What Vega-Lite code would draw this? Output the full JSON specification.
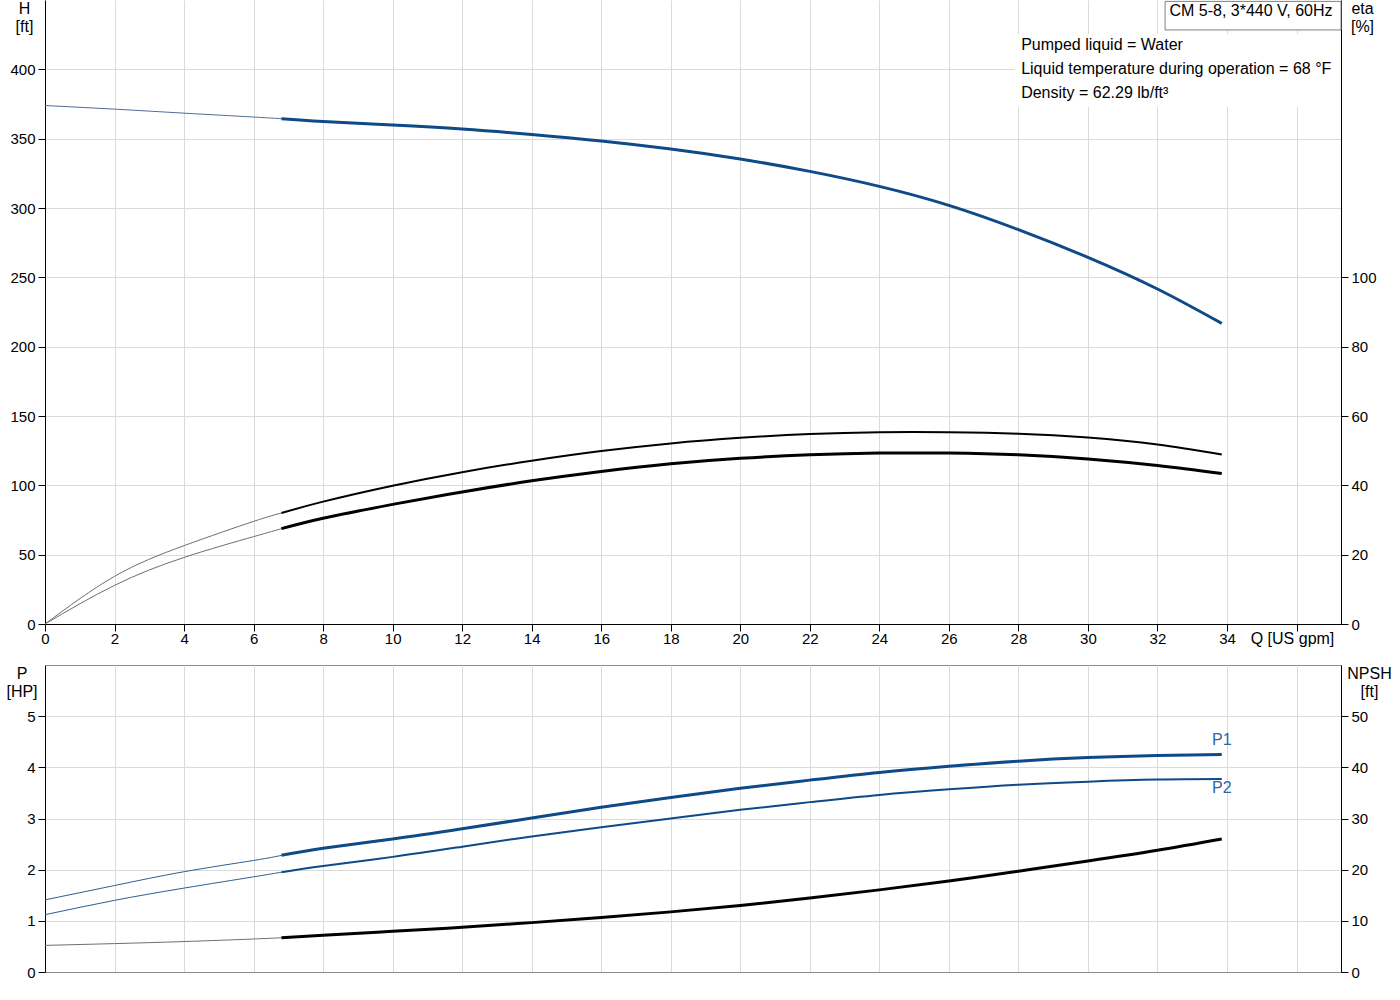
{
  "$schema": "https://vega.github.io/schema/vega-lite/v6.json",
  "padding": {"left": 5, "top": 0, "right": 5, "bottom": 5},
  "config": {
    "font": "Liberation Sans",
    "axis": {
      "labelFont": "Liberation Sans", "labelFontSize": 15, "labelColor": "#000000",
      "titleFont": "Liberation Sans", "titleFontSize": 16, "titleFontWeight": "normal", "titleColor": "#000000",
      "domainColor": "#000000", "tickColor": "#000000", "gridColor": "#dadada",
      "tickSize": 7, "labelPadding": 3, "labelFlush": false
    },
    "view": {"stroke": "#8c8c8c"},
    "concat": {"spacing": 18}
  },
  "datasets": {
    "top": [
      {"curve": "H", "range": "extended", "q": 0, "value": 373.9},
      {"curve": "H", "range": "extended", "q": 2, "value": 371.3},
      {"curve": "H", "range": "extended", "q": 4, "value": 368.4},
      {"curve": "H", "range": "extended", "q": 6, "value": 365.6},
      {"curve": "H", "range": "extended", "q": 6.8, "value": 364.4},
      {"curve": "H", "range": "duty", "q": 6.8, "value": 364.4},
      {"curve": "H", "range": "duty", "q": 8, "value": 362.4},
      {"curve": "H", "range": "duty", "q": 10, "value": 359.8},
      {"curve": "H", "range": "duty", "q": 12, "value": 356.9},
      {"curve": "H", "range": "duty", "q": 14, "value": 353.0},
      {"curve": "H", "range": "duty", "q": 16, "value": 348.3},
      {"curve": "H", "range": "duty", "q": 18, "value": 342.5},
      {"curve": "H", "range": "duty", "q": 20, "value": 335.3},
      {"curve": "H", "range": "duty", "q": 22, "value": 326.4},
      {"curve": "H", "range": "duty", "q": 24, "value": 315.6},
      {"curve": "H", "range": "duty", "q": 26, "value": 301.9},
      {"curve": "H", "range": "duty", "q": 28, "value": 284.4},
      {"curve": "H", "range": "duty", "q": 30, "value": 264.4},
      {"curve": "H", "range": "duty", "q": 32, "value": 241.6},
      {"curve": "H", "range": "duty", "q": 33.85, "value": 216.8},
      {"curve": "eta pump", "range": "extended", "q": 0, "value": 0},
      {"curve": "eta pump", "range": "extended", "q": 2, "value": 13.75},
      {"curve": "eta pump", "range": "extended", "q": 4, "value": 22.6},
      {"curve": "eta pump", "range": "extended", "q": 6, "value": 29.6},
      {"curve": "eta pump", "range": "extended", "q": 6.8, "value": 32.0},
      {"curve": "eta pump", "range": "duty", "q": 6.8, "value": 32.0},
      {"curve": "eta pump", "range": "duty", "q": 8, "value": 35.3},
      {"curve": "eta pump", "range": "duty", "q": 10, "value": 39.9},
      {"curve": "eta pump", "range": "duty", "q": 12, "value": 43.8},
      {"curve": "eta pump", "range": "duty", "q": 14, "value": 47.1},
      {"curve": "eta pump", "range": "duty", "q": 16, "value": 49.9},
      {"curve": "eta pump", "range": "duty", "q": 18, "value": 52.1},
      {"curve": "eta pump", "range": "duty", "q": 20, "value": 53.7},
      {"curve": "eta pump", "range": "duty", "q": 22, "value": 54.8},
      {"curve": "eta pump", "range": "duty", "q": 24, "value": 55.3},
      {"curve": "eta pump", "range": "duty", "q": 26, "value": 55.3},
      {"curve": "eta pump", "range": "duty", "q": 28, "value": 54.9},
      {"curve": "eta pump", "range": "duty", "q": 30, "value": 53.8},
      {"curve": "eta pump", "range": "duty", "q": 32, "value": 51.8},
      {"curve": "eta pump", "range": "duty", "q": 33.85, "value": 48.9},
      {"curve": "eta total", "range": "extended", "q": 0, "value": 0},
      {"curve": "eta total", "range": "extended", "q": 2, "value": 11.15},
      {"curve": "eta total", "range": "extended", "q": 4, "value": 19.2},
      {"curve": "eta total", "range": "extended", "q": 6, "value": 25.2},
      {"curve": "eta total", "range": "extended", "q": 6.8, "value": 27.5},
      {"curve": "eta total", "range": "duty", "q": 6.8, "value": 27.5},
      {"curve": "eta total", "range": "duty", "q": 8, "value": 30.5},
      {"curve": "eta total", "range": "duty", "q": 10, "value": 34.5},
      {"curve": "eta total", "range": "duty", "q": 12, "value": 38.1},
      {"curve": "eta total", "range": "duty", "q": 14, "value": 41.3},
      {"curve": "eta total", "range": "duty", "q": 16, "value": 44.0},
      {"curve": "eta total", "range": "duty", "q": 18, "value": 46.2},
      {"curve": "eta total", "range": "duty", "q": 20, "value": 47.8},
      {"curve": "eta total", "range": "duty", "q": 22, "value": 48.8},
      {"curve": "eta total", "range": "duty", "q": 24, "value": 49.3},
      {"curve": "eta total", "range": "duty", "q": 26, "value": 49.3},
      {"curve": "eta total", "range": "duty", "q": 28, "value": 48.8},
      {"curve": "eta total", "range": "duty", "q": 30, "value": 47.6},
      {"curve": "eta total", "range": "duty", "q": 32, "value": 45.7},
      {"curve": "eta total", "range": "duty", "q": 33.85, "value": 43.4}
    ],
    "bottom": [
      {"curve": "P1", "range": "extended", "q": 0, "value": 1.41},
      {"curve": "P1", "range": "extended", "q": 2, "value": 1.69},
      {"curve": "P1", "range": "extended", "q": 4, "value": 1.96},
      {"curve": "P1", "range": "extended", "q": 6, "value": 2.18},
      {"curve": "P1", "range": "extended", "q": 6.8, "value": 2.28},
      {"curve": "P1", "range": "duty", "q": 6.8, "value": 2.28},
      {"curve": "P1", "range": "duty", "q": 8, "value": 2.42},
      {"curve": "P1", "range": "duty", "q": 10, "value": 2.6},
      {"curve": "P1", "range": "duty", "q": 12, "value": 2.8},
      {"curve": "P1", "range": "duty", "q": 14, "value": 3.01},
      {"curve": "P1", "range": "duty", "q": 16, "value": 3.22},
      {"curve": "P1", "range": "duty", "q": 18, "value": 3.41},
      {"curve": "P1", "range": "duty", "q": 20, "value": 3.59},
      {"curve": "P1", "range": "duty", "q": 22, "value": 3.75},
      {"curve": "P1", "range": "duty", "q": 24, "value": 3.9},
      {"curve": "P1", "range": "duty", "q": 26, "value": 4.02},
      {"curve": "P1", "range": "duty", "q": 28, "value": 4.12},
      {"curve": "P1", "range": "duty", "q": 30, "value": 4.19},
      {"curve": "P1", "range": "duty", "q": 32, "value": 4.23},
      {"curve": "P1", "range": "duty", "q": 33.85, "value": 4.25},
      {"curve": "P2", "range": "extended", "q": 0, "value": 1.12},
      {"curve": "P2", "range": "extended", "q": 2, "value": 1.4},
      {"curve": "P2", "range": "extended", "q": 4, "value": 1.64},
      {"curve": "P2", "range": "extended", "q": 6, "value": 1.86},
      {"curve": "P2", "range": "extended", "q": 6.8, "value": 1.95},
      {"curve": "P2", "range": "duty", "q": 6.8, "value": 1.95},
      {"curve": "P2", "range": "duty", "q": 8, "value": 2.07},
      {"curve": "P2", "range": "duty", "q": 10, "value": 2.25},
      {"curve": "P2", "range": "duty", "q": 12, "value": 2.45},
      {"curve": "P2", "range": "duty", "q": 14, "value": 2.65},
      {"curve": "P2", "range": "duty", "q": 16, "value": 2.83},
      {"curve": "P2", "range": "duty", "q": 18, "value": 3.0},
      {"curve": "P2", "range": "duty", "q": 20, "value": 3.17},
      {"curve": "P2", "range": "duty", "q": 22, "value": 3.32},
      {"curve": "P2", "range": "duty", "q": 24, "value": 3.46},
      {"curve": "P2", "range": "duty", "q": 26, "value": 3.57},
      {"curve": "P2", "range": "duty", "q": 28, "value": 3.66},
      {"curve": "P2", "range": "duty", "q": 30, "value": 3.72},
      {"curve": "P2", "range": "duty", "q": 32, "value": 3.76},
      {"curve": "P2", "range": "duty", "q": 33.85, "value": 3.77},
      {"curve": "NPSH", "range": "extended", "q": 0, "value": 5.2},
      {"curve": "NPSH", "range": "extended", "q": 2, "value": 5.55},
      {"curve": "NPSH", "range": "extended", "q": 4, "value": 5.95},
      {"curve": "NPSH", "range": "extended", "q": 6, "value": 6.45},
      {"curve": "NPSH", "range": "extended", "q": 6.8, "value": 6.7},
      {"curve": "NPSH", "range": "duty", "q": 6.8, "value": 6.7},
      {"curve": "NPSH", "range": "duty", "q": 8, "value": 7.2},
      {"curve": "NPSH", "range": "duty", "q": 10, "value": 7.95},
      {"curve": "NPSH", "range": "duty", "q": 12, "value": 8.75},
      {"curve": "NPSH", "range": "duty", "q": 14, "value": 9.65},
      {"curve": "NPSH", "range": "duty", "q": 16, "value": 10.65},
      {"curve": "NPSH", "range": "duty", "q": 18, "value": 11.75},
      {"curve": "NPSH", "range": "duty", "q": 20, "value": 13.0},
      {"curve": "NPSH", "range": "duty", "q": 22, "value": 14.45},
      {"curve": "NPSH", "range": "duty", "q": 24, "value": 16.05},
      {"curve": "NPSH", "range": "duty", "q": 26, "value": 17.8},
      {"curve": "NPSH", "range": "duty", "q": 28, "value": 19.7},
      {"curve": "NPSH", "range": "duty", "q": 30, "value": 21.7},
      {"curve": "NPSH", "range": "duty", "q": 32, "value": 23.8},
      {"curve": "NPSH", "range": "duty", "q": 33.85, "value": 26.0}
    ]
  },
  "vconcat": [
    {
      "width": 1296,
      "height": 624,
      "view": {"stroke": null},
      "layer": [
        {
          "data": {"name": "top"},
          "transform": [{"filter": "datum.curve == 'H'"}],
          "mark": {"type": "line", "interpolate": "natural"},
          "encoding": {
            "x": {"field": "q", "type": "quantitative",
              "scale": {"domain": [0, 37.28], "nice": false, "zero": false},
              "axis": {"values": [0, 2, 4, 6, 8, 10, 12, 14, 16, 18, 20, 22, 24, 26, 28, 30, 32, 34, 36],
                "labelExpr": "datum.value == 36 ? '' : datum.label", "labelPadding": 0,
                "grid": true, "title": "Q [US gpm]", "titleX": 1247, "titleY": 6,
                "titleAlign": "center", "titleBaseline": "top", "titleAngle": 0}},
            "y": {"field": "value", "type": "quantitative",
              "scale": {"domain": [0, 450], "nice": false},
              "axis": {"orient": "left", "values": [0, 50, 100, 150, 200, 250, 300, 350, 400], "grid": true,
                "title": ["H", "[ft]"], "titleAngle": 0, "titleAlign": "center", "titleBaseline": "top",
                "titleX": -21, "titleY": 0, "titleLineHeight": 18}},
            "detail": {"field": "range"},
            "color": {"field": "range", "type": "nominal", "scale": {"domain": ["extended", "duty"], "range": ["#4f6f96", "#0d4a87"]}, "legend": null},
            "strokeWidth": {"field": "range", "type": "nominal", "scale": {"domain": ["extended", "duty"], "range": [1, 3]}, "legend": null}
          }
        },
        {
          "data": {"name": "top"},
          "transform": [{"filter": "datum.curve == 'eta pump'"}],
          "mark": {"type": "line", "interpolate": "natural"},
          "encoding": {
            "x": {"field": "q", "type": "quantitative"},
            "y": {"field": "value", "type": "quantitative",
              "scale": {"domain": [0, 180], "nice": false},
              "axis": {"orient": "right", "values": [0, 20, 40, 60, 80, 100], "grid": false,
                "title": ["eta", "[%]"], "titleAngle": 0, "titleAlign": "center", "titleBaseline": "top",
                "titleX": 21, "titleY": 0, "titleLineHeight": 18}},
            "detail": {"field": "range"},
            "color": {"field": "range", "type": "nominal", "scale": {"domain": ["extended", "duty"], "range": ["#6e6e6e", "#000000"]}, "legend": null},
            "strokeWidth": {"field": "range", "type": "nominal", "scale": {"domain": ["extended", "duty"], "range": [1, 2]}, "legend": null}
          }
        },
        {
          "data": {"name": "top"},
          "transform": [{"filter": "datum.curve == 'eta total'"}],
          "mark": {"type": "line", "interpolate": "natural"},
          "encoding": {
            "x": {"field": "q", "type": "quantitative"},
            "y": {"field": "value", "type": "quantitative", "scale": {"domain": [0, 180], "nice": false}, "axis": null},
            "detail": {"field": "range"},
            "color": {"field": "range", "type": "nominal", "scale": {"domain": ["extended", "duty"], "range": ["#6e6e6e", "#000000"]}, "legend": null},
            "strokeWidth": {"field": "range", "type": "nominal", "scale": {"domain": ["extended", "duty"], "range": [1, 3]}, "legend": null}
          }
        },
        {
          "data": {"values": [{}]},
          "mark": {"type": "rect", "fill": "#ffffff", "strokeWidth": 0},
          "encoding": {
            "x": {"datum": 27.9, "type": "quantitative"},
            "x2": {"datum": 37.28},
            "y": {"datum": 425.5, "type": "quantitative", "scale": {"domain": [0, 450], "nice": false}, "axis": null},
            "y2": {"datum": 372.8}
          }
        },
        {
          "data": {"values": [{}]},
          "mark": {"type": "rect", "fill": "#ffffff", "stroke": "#808080", "strokeWidth": 1},
          "encoding": {
            "x": {"datum": 32.22, "type": "quantitative"},
            "x2": {"datum": 37.28},
            "y": {"datum": 449, "type": "quantitative", "scale": {"domain": [0, 450], "nice": false}, "axis": null},
            "y2": {"datum": 428.4}
          }
        },
        {
          "data": {"values": [{}]},
          "mark": {"type": "text", "text": "CM 5-8, 3*440 V, 60Hz", "fontSize": 16, "font": "Liberation Sans", "color": "#000000", "align": "center", "baseline": "middle"},
          "encoding": {
            "x": {"datum": 34.69, "type": "quantitative"},
            "y": {"datum": 442.1, "type": "quantitative", "scale": {"domain": [0, 450], "nice": false}, "axis": null}
          }
        },
        {
          "data": {"values": [{}]},
          "mark": {"type": "text", "text": ["Pumped liquid = Water", "Liquid temperature during operation = 68 °F", "Density = 62.29 lb/ft³"],
            "fontSize": 16, "font": "Liberation Sans", "color": "#000000", "align": "left", "baseline": "top", "lineHeight": 24},
          "encoding": {
            "x": {"datum": 28.08, "type": "quantitative"},
            "y": {"datum": 423.0, "type": "quantitative", "scale": {"domain": [0, 450], "nice": false}, "axis": null}
          }
        }
      ],
      "resolve": {"scale": {"y": "independent", "color": "independent", "strokeWidth": "independent"}}
    },
    {
      "width": 1296,
      "height": 307,
      "layer": [
        {
          "data": {"name": "bottom"},
          "transform": [{"filter": "datum.curve == 'P1'"}],
          "mark": {"type": "line", "interpolate": "natural"},
          "encoding": {
            "x": {"field": "q", "type": "quantitative",
              "scale": {"domain": [0, 37.28], "nice": false, "zero": false},
              "axis": {"values": [0, 2, 4, 6, 8, 10, 12, 14, 16, 18, 20, 22, 24, 26, 28, 30, 32, 34, 36],
                "grid": true, "labels": false, "ticks": false, "title": null, "domainColor": "#8c8c8c"}},
            "y": {"field": "value", "type": "quantitative",
              "scale": {"domain": [0, 6], "nice": false},
              "axis": {"orient": "left", "values": [0, 1, 2, 3, 4, 5], "grid": true,
                "title": ["P", "[HP]"], "titleAngle": 0, "titleAlign": "center", "titleBaseline": "top",
                "titleX": -23.5, "titleY": 0, "titleLineHeight": 18}},
            "detail": {"field": "range"},
            "color": {"field": "range", "type": "nominal", "scale": {"domain": ["extended", "duty"], "range": ["#2d5f94", "#0d4a87"]}, "legend": null},
            "strokeWidth": {"field": "range", "type": "nominal", "scale": {"domain": ["extended", "duty"], "range": [1, 3]}, "legend": null}
          }
        },
        {
          "data": {"name": "bottom"},
          "transform": [{"filter": "datum.curve == 'P2'"}],
          "mark": {"type": "line", "interpolate": "natural"},
          "encoding": {
            "x": {"field": "q", "type": "quantitative"},
            "y": {"field": "value", "type": "quantitative", "scale": {"domain": [0, 6], "nice": false}, "axis": null},
            "detail": {"field": "range"},
            "color": {"field": "range", "type": "nominal", "scale": {"domain": ["extended", "duty"], "range": ["#2d5f94", "#0d4a87"]}, "legend": null},
            "strokeWidth": {"field": "range", "type": "nominal", "scale": {"domain": ["extended", "duty"], "range": [1, 2]}, "legend": null}
          }
        },
        {
          "data": {"name": "bottom"},
          "transform": [{"filter": "datum.curve == 'NPSH'"}],
          "mark": {"type": "line", "interpolate": "natural"},
          "encoding": {
            "x": {"field": "q", "type": "quantitative"},
            "y": {"field": "value", "type": "quantitative",
              "scale": {"domain": [0, 60], "nice": false},
              "axis": {"orient": "right", "values": [0, 10, 20, 30, 40, 50], "grid": false,
                "title": ["NPSH", "[ft]"], "titleAngle": 0, "titleAlign": "center", "titleBaseline": "top",
                "titleX": 28, "titleY": 0, "titleLineHeight": 18}},
            "detail": {"field": "range"},
            "color": {"field": "range", "type": "nominal", "scale": {"domain": ["extended", "duty"], "range": ["#6e6e6e", "#000000"]}, "legend": null},
            "strokeWidth": {"field": "range", "type": "nominal", "scale": {"domain": ["extended", "duty"], "range": [1, 3]}, "legend": null}
          }
        },
        {
          "data": {"name": "bottom"},
          "transform": [{"filter": "datum.curve == 'P1' && datum.q > 33"}],
          "mark": {"type": "text", "fontSize": 16, "font": "Liberation Sans", "color": "#2a66a6", "align": "center", "baseline": "middle", "dy": -15},
          "encoding": {
            "x": {"field": "q", "type": "quantitative"},
            "y": {"field": "value", "type": "quantitative", "scale": {"domain": [0, 6], "nice": false}, "axis": null},
            "text": {"field": "curve"}
          }
        },
        {
          "data": {"name": "bottom"},
          "transform": [{"filter": "datum.curve == 'P2' && datum.q > 33"}],
          "mark": {"type": "text", "fontSize": 16, "font": "Liberation Sans", "color": "#2a66a6", "align": "center", "baseline": "middle", "dy": 9},
          "encoding": {
            "x": {"field": "q", "type": "quantitative"},
            "y": {"field": "value", "type": "quantitative", "scale": {"domain": [0, 6], "nice": false}, "axis": null},
            "text": {"field": "curve"}
          }
        }
      ],
      "resolve": {"scale": {"y": "independent", "color": "independent", "strokeWidth": "independent"}}
    }
  ]
}
